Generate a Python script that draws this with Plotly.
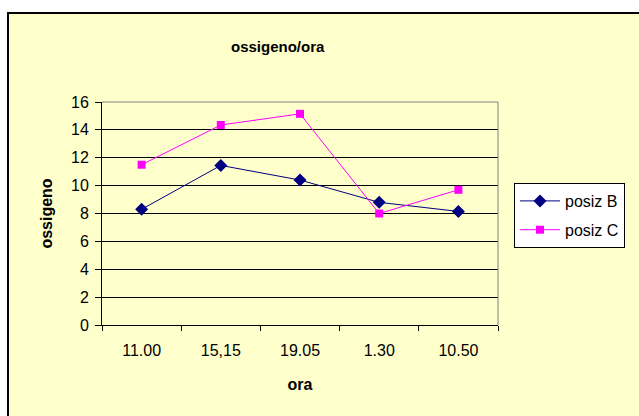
import plotly.graph_objects as go

categories = ["11.00", "15,15", "19.05", "1.30", "10.50"]
posiz_b = [8.3, 11.45, 10.4, 8.8, 8.15]
posiz_c = [11.5, 14.35, 15.15, 8.0, 9.7]
y_ticks = [0, 2, 4, 6, 8, 10, 12, 14, 16]

W, H = 639, 416
L, R, T, B = 102, 498, 102, 325  # plot area in pixels
pw, ph = R - L, B - T

def px(x):
    return (x - L) / pw

def py(y):
    return (B - y) / ph

YELLOW = "#FFFFCC"
FONT = "Liberation Sans, Arial, sans-serif"
FS = 16

fig = go.Figure()
fig.add_trace(go.Scatter(
    x=categories, y=posiz_b, name="posiz B", mode="lines+markers",
    legendgroup="b",
    line=dict(color="#000080", width=1),
    marker=dict(symbol="diamond", size=10, color="#000080"),
))
fig.add_trace(go.Scatter(
    x=categories, y=posiz_c, name="posiz C", mode="lines+markers",
    legendgroup="c",
    line=dict(color="#FF00FF", width=1),
    marker=dict(symbol="square", size=8, color="#FF00FF"),
))

shapes = [
    dict(type="rect", xref="paper", yref="paper", layer="below",
         x0=px(8), x1=px(700), y0=py(460), y1=py(13),
         fillcolor=YELLOW, line=dict(color="black", width=2)),
    dict(type="line", xref="paper", yref="paper", x0=0, x1=1, y0=1, y1=1,
         line=dict(color="#808080", width=1)),
    dict(type="line", xref="paper", yref="paper", x0=1, x1=1, y0=0, y1=1,
         line=dict(color="#808080", width=1)),
]

fig.update_layout(
    width=W, height=H,
    margin=dict(l=L, r=W - R, t=T, b=H - B, pad=0),
    paper_bgcolor="white",
    plot_bgcolor=YELLOW,
    font=dict(family=FONT, size=FS, color="black"),
    shapes=shapes,
    showlegend=True,
    legend=dict(
        x=px(514), y=py(183), xanchor="left", yanchor="top",
        bgcolor="white", bordercolor="black", borderwidth=1,
        font=dict(family=FONT, size=FS, color="black"),
        traceorder="grouped", tracegroupgap=5, itemwidth=40,
    ),
    annotations=[
        dict(text="<b>ossigeno/ora</b>", xref="paper", yref="paper",
             x=px(278), y=py(47), xanchor="center", yanchor="middle",
             showarrow=False, font=dict(family=FONT, size=15, color="black")),
    ],
)

fig.update_xaxes(
    type="category", tickson="boundaries", ticks="outside", ticklen=5,
    tickcolor="black", showline=True, linecolor="black", linewidth=1,
    showgrid=False, tickfont=dict(size=FS), ticklabelstandoff=11,
    title=dict(text="<b>ora</b>", font=dict(size=FS), standoff=20),
    range=[-0.5, 4.5],
)
fig.update_yaxes(
    range=[0, 16], tickvals=y_ticks, ticks="outside", ticklen=6,
    tickcolor="black", showline=True, linecolor="black", linewidth=1,
    showgrid=True, gridcolor="black", gridwidth=1, zeroline=False,
    tickfont=dict(size=FS), ticklabelstandoff=3,
    title=dict(text="<b>ossigeno</b>", font=dict(size=FS), standoff=14),
)

fig.write_html(
    "out.html",
    config={"displayModeBar": False},
    post_script="document.body.style.margin='0';document.body.style.overflow='hidden';",
)
